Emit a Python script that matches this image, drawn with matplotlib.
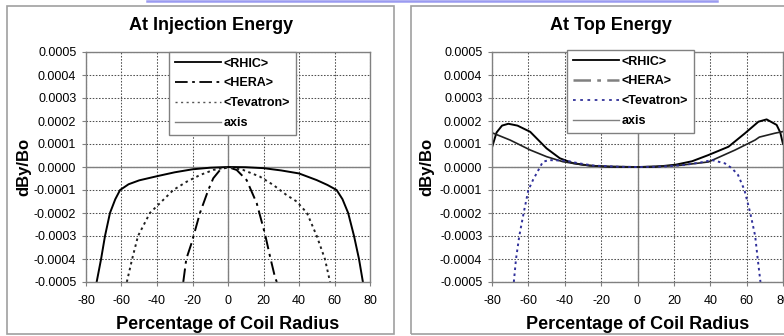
import numpy as np
import matplotlib
matplotlib.use('Agg')
import matplotlib.pyplot as plt
from matplotlib.lines import Line2D
from matplotlib.patches import Rectangle
from matplotlib.ticker import FormatStrFormatter, MultipleLocator

plt.rcParams['font.family'] = ['Liberation Sans', 'DejaVu Sans']
plt.rcParams['axes.unicode_minus'] = False

# values in units of 1e-4 (dBy/Bo), x in percent of coil radius
# --- injection energy
rhic_inj_x = [-74, -71.5, -69.3, -66.5, -63.5, -60.8, -56, -50, -40, -30, -20, -10, 0,
              10, 20, 30, 40, 50, 56, 61.2, 64.5, 67.7, 71, 73.8, 76]
rhic_inj_y = [-5.0, -4.0, -3.0, -2.0, -1.4, -1.0, -0.75, -0.58, -0.4, -0.23, -0.1, -0.03, 0,
              -0.01, -0.05, -0.15, -0.28, -0.57, -0.78, -1.0, -1.4, -2.0, -3.0, -4.0, -5.0]

hera_inj_x = [-25.2, -23.5, -20.5, -15.8, -11.1, -8.3, -4.5, 0, 4.9, 10.5, 16.2, 20.8, 23.7, 26.5, 27.5]
hera_inj_y = [-5.0, -4.0, -3.3, -2.0, -1.0, -0.49, -0.13, 0, -0.13, -0.57, -1.58, -2.9, -3.9, -4.8, -5.0]

tev_inj_x = [-57, -54, -50.7, -44, -37.4, -30.8, -23.3, -15.8, -8.3, 0,
             8.6, 18, 25.5, 33, 38.7, 44.5, 50, 54.6, 57.5]
tev_inj_y = [-5.0, -4.0, -3.0, -2.0, -1.5, -1.0, -0.64, -0.35, -0.13, 0,
             -0.13, -0.42, -0.78, -1.22, -1.5, -2.0, -3.0, -4.0, -5.0]

# --- top energy
rhic_top_x = [-80, -77.5, -74.5, -71, -66, -59, -50, -42.7, -35.6, -26.5, -15, 0,
              10, 21, 30, 39, 50, 59, 66.5, 71, 76.5, 78.5, 80]
rhic_top_y = [0.85, 1.5, 1.8, 1.88, 1.8, 1.53, 0.81, 0.38, 0.17, 0.06, 0.01, 0,
              0.01, 0.1, 0.25, 0.52, 0.88, 1.46, 1.97, 2.07, 1.83, 1.5, 1.0]

hera_top_x = [-80, -70, -59, -50, -41, -30, -20, 0, 23, 39, 53.7, 64.6, 67, 75.6, 80]
hera_top_y = [1.49, 1.17, 0.74, 0.45, 0.23, 0.09, 0.03, 0, 0.07, 0.22, 0.74, 1.17, 1.3, 1.47, 1.54]

tev_top_x = [-68, -66.8, -65, -62.6, -60, -57.5, -54.4, -52, -48.5, -39, -33, -24, -10, 0,
             10, 17, 26, 35, 41, 48, 52, 55.3, 58.8, 62, 64.7, 66.1, 67.6]
tev_top_y = [-5.0, -4.0, -3.0, -2.0, -1.0, -0.57, -0.12, 0.23, 0.3, 0.27, 0.17, 0.06, 0.01, 0,
             0.01, 0.03, 0.09, 0.2, 0.3, 0.16, -0.06, -0.35, -1.0, -2.0, -3.0, -4.0, -5.0]

labels = ['<RHIC>', '<HERA>', '<Tevatron>', 'axis']
titles = ['At Injection Energy', 'At Top Energy']

W, H = 784, 336
fig = plt.figure(figsize=(W / 100, H / 100), dpi=100)

def fx(px):
    return px / W

def fy(py):
    return 1 - py / H

# slide decorations: panel frames and blue line
fig.add_artist(Rectangle((fx(7), fy(334)), fx(387), 328 / H, transform=fig.transFigure,
                         fill=False, edgecolor='#a0a0a0', lw=1.2))
fig.add_artist(Rectangle((fx(411), fy(334)), fx(400), 328 / H, transform=fig.transFigure,
                         fill=False, edgecolor='#a0a0a0', lw=1.2))
fig.add_artist(Line2D([fx(147), fx(717)], [fy(0.8), fy(0.8)], transform=fig.transFigure,
                      color='#9a9af0', lw=1.8))

ax1 = fig.add_axes([fx(86), fy(282), fx(284), 230 / H])
ax2 = fig.add_axes([fx(492), fy(282), fx(291), 230 / H])

hera_dash = (0, (7, 2.5, 1.5, 2.5))
tev_dot = (0, (1.3, 1.8))
gridc = '#505050'

def setup(ax):
    ax.set_xlim(-80, 80)
    ax.set_ylim(-0.0005, 0.0005)
    ax.xaxis.set_major_locator(MultipleLocator(20))
    ax.yaxis.set_major_locator(MultipleLocator(0.0001))
    ax.yaxis.set_major_formatter(FormatStrFormatter('%.4f'))
    ax.xaxis.set_major_formatter(FormatStrFormatter('%d'))
    ax.grid(True, color=gridc, linestyle=(0, (1.5, 1.5)), lw=0.75)
    ax.set_axisbelow(True)
    for s in ax.spines.values():
        s.set_color('#808080')
        s.set_linewidth(1.0)
    ax.tick_params(axis='both', direction='out', length=3, color='#808080', labelsize=9)
    ax.tick_params(axis='y', pad=4)
    ax.tick_params(axis='x', pad=6)
    # axis series
    ax.plot([0, 0], [-0.0005, 0.0005], color='#808080', lw=1.0)
    ax.axhline(0, color='#808080', lw=1.0)
    ax.set_xlabel('Percentage of Coil Radius', fontsize=13, fontweight='bold', labelpad=7)

setup(ax1)
setup(ax2)

s = 1e-4
ax1.plot(rhic_inj_x, np.array(rhic_inj_y) * s, color='black', lw=1.4)
ax1.plot(hera_inj_x, np.array(hera_inj_y) * s, color='black', lw=1.4, linestyle=hera_dash)
ax1.plot(tev_inj_x, np.array(tev_inj_y) * s, color='#202020', lw=1.4, linestyle=tev_dot)

ax2.plot(rhic_top_x, np.array(rhic_top_y) * s, color='black', lw=1.4)
ax2.plot(hera_top_x, np.array(hera_top_y) * s, color='#202020', lw=1.2)
ax2.plot(tev_top_x, np.array(tev_top_y) * s, color='#30309a', lw=1.4, linestyle=tev_dot)

handles1 = [Line2D([], [], color='black', lw=1.3),
            Line2D([], [], color='black', lw=1.3, linestyle=hera_dash),
            Line2D([], [], color='#555555', lw=1.0, linestyle=(0, (1.5, 2.5))),
            Line2D([], [], color='#808080', lw=1.0)]
handles2 = [Line2D([], [], color='black', lw=1.3),
            Line2D([], [], color='#808080', lw=1.8, linestyle=hera_dash),
            Line2D([], [], color='#33339a', lw=1.3, linestyle=(0, (1.5, 2.5))),
            Line2D([], [], color='#808080', lw=1.0)]

for ax, handles, (lx, ly) in [(ax1, handles1, (169, 52)), (ax2, handles2, (567, 50))]:
    leg = ax.legend(handles, labels, loc='upper left', bbox_to_anchor=(fx(lx), fy(ly)),
                    bbox_transform=fig.transFigure, borderaxespad=0, fancybox=False,
                    framealpha=1, edgecolor='#808080', handlelength=3.7, handletextpad=0.25,
                    labelspacing=0.62, borderpad=0.45, prop={'size': 9, 'weight': 'bold'})
    leg.get_frame().set_linewidth(1.0)

fig.text(fx(211), fy(25), titles[0], ha='center', va='center', fontsize=13, fontweight='bold')
fig.text(fx(611), fy(25), titles[1], ha='center', va='center', fontsize=13, fontweight='bold')
fig.text(fx(24), fy(167), 'dBy/Bo', rotation=90, ha='center', va='center', fontsize=12, fontweight='bold')
fig.text(fx(427), fy(167), 'dBy/Bo', rotation=90, ha='center', va='center', fontsize=12, fontweight='bold')

fig.savefig('out.png', dpi=100)
